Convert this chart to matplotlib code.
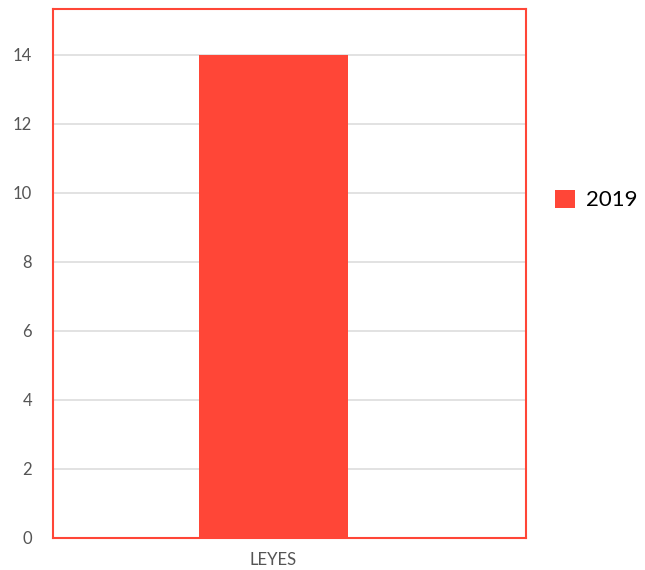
import matplotlib.pyplot as plt
from matplotlib.patches import Patch

categories = ['LEYES']
values_2019 = [14]
series_name = '2019'
yticks = [0, 2, 4, 6, 8, 10, 12, 14]

red = '#ff4637'

fig = plt.figure(figsize=(6.45, 5.70), dpi=100)
ax = fig.add_axes([53 / 645, 1 - 538 / 570, (526 - 53) / 645, (538 - 9) / 570])

ax.bar(range(len(categories)), values_2019, width=0.315, color=red, zorder=3)
ax.set_xlim(-0.466, len(categories) - 0.466)
ax.set_ylim(0, 15.33)

ax.set_xticks(range(len(categories)))
ax.set_xticklabels(categories, family='Lato', fontsize=12, color='#555555')
ax.set_yticks(yticks)
ax.set_yticklabels([str(v) for v in yticks], family='Lato', fontsize=12, color='#555555')
ax.tick_params(length=0)
ax.tick_params(axis='x', pad=10)
ax.tick_params(axis='y', pad=15)

ax.grid(axis='y', color='#dddddd', linewidth=1.2, zorder=0)
for s in ax.spines.values():
    s.set_color(red)
    s.set_linewidth(1.5)

handles = [Patch(facecolor=red, label=series_name)]
fig.legend(handles=handles, loc='center left', bbox_to_anchor=(555 / 645, 1 - 200 / 570),
           frameon=False, prop={'family': 'Lato', 'size': 16},
           borderpad=0, borderaxespad=0,
           handlelength=0.9, handleheight=0.9, handletextpad=0.5)

fig.savefig('out.png', dpi=100)
